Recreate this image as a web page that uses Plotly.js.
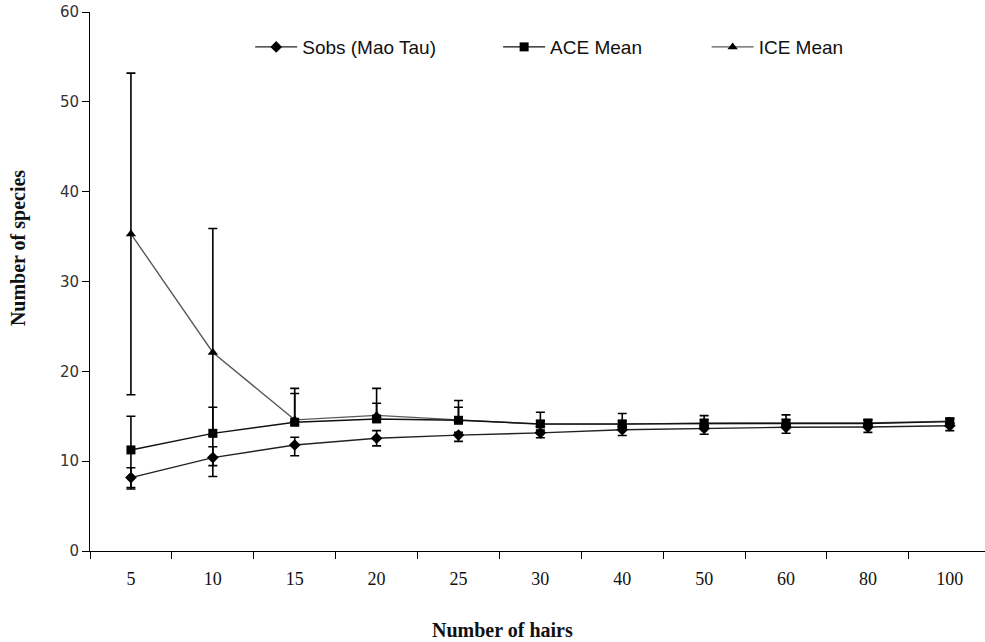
<!DOCTYPE html>
<html>
<head>
<meta charset="utf-8">
<script src="https://cdn.plot.ly/plotly-3.0.1.min.js"></script>
<style>html,body{margin:0;padding:0;background:#fff;}#chart{width:985px;height:642px;}</style>
</head>
<body>
<div id="chart"></div>
<script>
// Categories (number of hairs)
var categories = ['5', '10', '15', '20', '25', '30', '40', '50', '60', '80', '100'];

// Sobs (Mao Tau)
var sobs      = [8.17, 10.4, 11.8, 12.55, 12.9, 13.15, 13.5, 13.65, 13.77, 13.8, 13.95];
var sobsPlus  = [1.1, 1.2, 0.86, 0.85, 0.3, 0.3, 0.3, 0.3, 0.3, 0.3, 0.3];
var sobsMinus = [1.1, 0.9, 1.2, 0.85, 0.7, 0.55, 0.65, 0.65, 0.67, 0.6, 0.55];

// ACE Mean
var ace      = [11.25, 13.1, 14.33, 14.7, 14.55, 14.15, 14.15, 14.2, 14.2, 14.2, 14.4];
var acePlus  = [3.75, 2.9, 3.2, 1.75, 1.45, 1.3, 1.15, 0.87, 0.95, 0.4, 0.3];
var aceMinus = [4.35, 0.3, 0.3, 0.3, 0.3, 0.3, 0.3, 0.3, 0.3, 0.3, 0.3];

// ICE Mean
var ice      = [35.3, 22.1, 14.6, 15.1, 14.6, 14.1, 14.1, 14.25, 14.25, 14.25, 14.45];
var icePlus  = [17.9, 13.8, 3.5, 3.0, 2.15, 0.4, 0.4, 0.4, 0.4, 0.4, 0.3];
var iceMinus = [17.9, 13.8, 0.3, 0.3, 0.3, 0.3, 0.3, 0.3, 0.3, 0.3, 0.3];

function errBar(plus, minus) {
  return {type: 'data', symmetric: false, array: plus, arrayminus: minus,
          color: '#000', thickness: 1.6, width: 4.5, visible: true};
}

var traces = [
  {x: categories, y: ice, name: 'ICE Mean', type: 'scatter', mode: 'lines+markers',
   line: {color: '#5a5a5a', width: 1.4},
   marker: {symbol: 'triangle-up', size: 9, color: '#000'},
   error_y: errBar(icePlus, iceMinus), legend: 'legend3'},
  {x: categories, y: ace, name: 'ACE Mean', type: 'scatter', mode: 'lines+markers',
   line: {color: '#111', width: 1.4},
   marker: {symbol: 'square', size: 9, color: '#000'},
   error_y: errBar(acePlus, aceMinus), legend: 'legend2'},
  {x: categories, y: sobs, name: 'Sobs (Mao Tau)', type: 'scatter', mode: 'lines+markers',
   line: {color: '#222', width: 1.4},
   marker: {symbol: 'diamond', size: 9, color: '#000'},
   error_y: errBar(sobsPlus, sobsMinus), legend: 'legend'}
];

var legFont = {family: '"Liberation Sans", Arial, sans-serif', size: 19, color: '#111'};
function leg(x) {
  return {x: x, y: 0.935, xanchor: 'left', yanchor: 'middle', orientation: 'h',
          font: legFont, bgcolor: 'rgba(0,0,0,0)', borderwidth: 0, itemwidth: 42};
}

var layout = {
  width: 985, height: 642,
  margin: {l: 90, r: 0, t: 12, b: 91},
  paper_bgcolor: '#fff', plot_bgcolor: '#fff',
  showlegend: true,
  legend: leg(0.179),
  legend2: leg(0.456),
  legend3: leg(0.689),
  xaxis: {
    type: 'category',
    range: [-0.5, 10.43],
    tickson: 'boundaries',
    ticks: 'outside', ticklen: 7, tickcolor: '#000', tickwidth: 1,
    showline: true, linecolor: '#000', linewidth: 1,
    showgrid: false, zeroline: false,
    ticklabelstandoff: 11,
    tickfont: {family: '"Liberation Serif", "Times New Roman", serif', size: 18, color: '#111'}
  },
  yaxis: {
    range: [0, 60], dtick: 10,
    ticks: 'outside', ticklen: 7, tickcolor: '#000', tickwidth: 1,
    showline: true, linecolor: '#000', linewidth: 1,
    showgrid: false, zeroline: false,
    tickfont: {family: '"DejaVu Sans", Verdana, sans-serif', size: 15, color: '#333'}
  },
  annotations: [
    {text: '<b>Number of species</b>', xref: 'paper', yref: 'paper',
     x: -0.0804, y: 0.562, textangle: -90, showarrow: false,
     xanchor: 'center', yanchor: 'middle',
     font: {family: '"Liberation Serif", "Times New Roman", serif', size: 20, color: '#111'}},
    {text: '<b>Number of hairs</b>', xref: 'paper', yref: 'paper',
     x: 0.461, y: -0.1466, showarrow: false,
     xanchor: 'center', yanchor: 'middle',
     font: {family: '"Liberation Serif", "Times New Roman", serif', size: 20, color: '#111'}}
  ]
};

Plotly.newPlot('chart', traces, layout, {displayModeBar: false, staticPlot: true});
</script>
</body>
</html>
